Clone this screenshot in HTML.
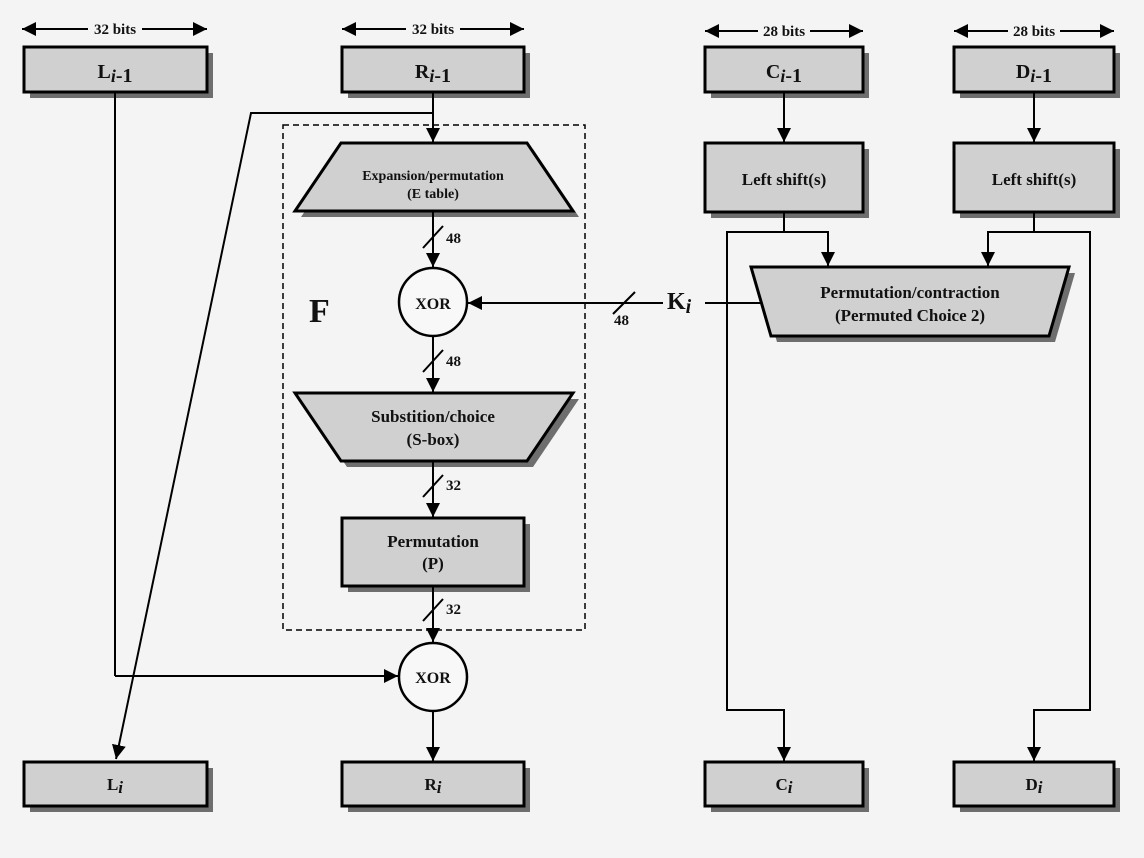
<!DOCTYPE html>
<html><head><meta charset="utf-8"><style>
html,body{margin:0;padding:0;background:#f4f4f4}
svg{display:block}
text{font-family:"Liberation Serif",serif;font-weight:bold;fill:#111}
</style></head><body>
<svg width="1144" height="858" viewBox="0 0 1144 858" xmlns="http://www.w3.org/2000/svg">
<defs>
<marker id="a" viewBox="0 0 10 10" refX="10" refY="5" markerWidth="14" markerHeight="14" markerUnits="userSpaceOnUse" orient="auto"><path d="M0,0 L10,5 L0,10 z" fill="#000"/></marker>
</defs>
<rect width="1144" height="858" fill="#f4f4f4"/>
<g stroke="#000" stroke-width="2" fill="none">
<line x1="30" y1="29" x2="207" y2="29" marker-end="url(#a)"/><line x1="200" y1="29" x2="22" y2="29" marker-end="url(#a)"/>
<line x1="348" y1="29" x2="524" y2="29" marker-end="url(#a)"/><line x1="520" y1="29" x2="342" y2="29" marker-end="url(#a)"/>
<line x1="710" y1="31" x2="863" y2="31" marker-end="url(#a)"/><line x1="860" y1="31" x2="705" y2="31" marker-end="url(#a)"/>
<line x1="960" y1="31" x2="1114" y2="31" marker-end="url(#a)"/><line x1="1110" y1="31" x2="954" y2="31" marker-end="url(#a)"/>
</g>
<g fill="#f4f4f4">
<rect x="88" y="19" width="54" height="20"/><rect x="406" y="19" width="54" height="20"/>
<rect x="758" y="21" width="52" height="20"/><rect x="1008" y="21" width="52" height="20"/>
</g>
<g font-size="15" text-anchor="middle">
<text x="115" y="34">32 bits</text><text x="433" y="34">32 bits</text>
<text x="784" y="36">28 bits</text><text x="1034" y="36">28 bits</text>
</g>
<g fill="#6e6e6e">
<rect x="30" y="53" width="183" height="45"/><rect x="348" y="53" width="182" height="45"/>
<rect x="711" y="53" width="158" height="45"/><rect x="960" y="53" width="160" height="45"/>
<rect x="711" y="149" width="158" height="69"/><rect x="960" y="149" width="160" height="69"/>
<rect x="348" y="524" width="182" height="68"/>
<rect x="30" y="768" width="183" height="44"/><rect x="348" y="768" width="182" height="44"/>
<rect x="711" y="768" width="158" height="44"/><rect x="960" y="768" width="160" height="44"/>
<polygon points="347,149 533,149 579,217 301,217"/>
<polygon points="301,399 579,399 533,467 347,467"/>
<polygon points="757,273 1075,273 1055,342 777,342"/>
</g>
<g fill="#d0d0d0" stroke="#000" stroke-width="3">
<rect x="24" y="47" width="183" height="45"/><rect x="342" y="47" width="182" height="45"/>
<rect x="705" y="47" width="158" height="45"/><rect x="954" y="47" width="160" height="45"/>
<rect x="705" y="143" width="158" height="69"/><rect x="954" y="143" width="160" height="69"/>
<rect x="342" y="518" width="182" height="68"/>
<rect x="24" y="762" width="183" height="44"/><rect x="342" y="762" width="182" height="44"/>
<rect x="705" y="762" width="158" height="44"/><rect x="954" y="762" width="160" height="44"/>
<polygon points="341,143 527,143 573,211 295,211"/>
<polygon points="295,393 573,393 527,461 341,461"/>
<polygon points="751,267 1069,267 1049,336 771,336"/>
</g>
<rect x="283" y="125" width="302" height="505" fill="none" stroke="#000" stroke-width="1.5" stroke-dasharray="6,4"/>
<g fill="#f8f8f8" stroke="#000" stroke-width="2.5">
<circle cx="433" cy="302" r="34"/><circle cx="433" cy="677" r="34"/>
</g>
<g stroke="#000" stroke-width="2" fill="none">
<line x1="115" y1="92" x2="115" y2="676"/><line x1="115" y1="676" x2="398" y2="676" marker-end="url(#a)"/>
<line x1="433" y1="92" x2="433" y2="142" marker-end="url(#a)"/>
<polyline points="433,113 251,113 116,759" marker-end="url(#a)"/>
<line x1="433" y1="211" x2="433" y2="267" marker-end="url(#a)"/>
<line x1="433" y1="336" x2="433" y2="392" marker-end="url(#a)"/>
<line x1="433" y1="461" x2="433" y2="517" marker-end="url(#a)"/>
<line x1="433" y1="586" x2="433" y2="642" marker-end="url(#a)"/>
<line x1="433" y1="711" x2="433" y2="761" marker-end="url(#a)"/>
<line x1="762" y1="303" x2="705" y2="303"/>
<line x1="663" y1="303" x2="468" y2="303" marker-end="url(#a)"/>
<line x1="784" y1="92" x2="784" y2="142" marker-end="url(#a)"/>
<line x1="1034" y1="92" x2="1034" y2="142" marker-end="url(#a)"/>
<polyline points="784,212 784,232 828,232 828,266" marker-end="url(#a)"/>
<polyline points="784,232 727,232 727,710 784,710 784,761" marker-end="url(#a)"/>
<polyline points="1034,212 1034,232 988,232 988,266" marker-end="url(#a)"/>
<polyline points="1034,232 1090,232 1090,710 1034,710 1034,761" marker-end="url(#a)"/>
<line x1="423" y1="248" x2="443" y2="226"/>
<line x1="423" y1="372" x2="443" y2="350"/>
<line x1="423" y1="497" x2="443" y2="475"/>
<line x1="423" y1="621" x2="443" y2="599"/>
<line x1="613" y1="314" x2="635" y2="292"/>
</g>
<g font-size="15">
<text x="446" y="243">48</text><text x="446" y="366">48</text>
<text x="446" y="490">32</text><text x="446" y="614">32</text>
<text x="614" y="325">48</text>
</g>
<g text-anchor="middle">
<text x="115" y="78" font-size="20">L<tspan font-style="italic" font-size="18" dy="4">i</tspan>-1</text>
<text x="433" y="78" font-size="20">R<tspan font-style="italic" font-size="18" dy="4">i</tspan>-1</text>
<text x="784" y="78" font-size="20">C<tspan font-style="italic" font-size="18" dy="4">i</tspan>-1</text>
<text x="1034" y="78" font-size="20">D<tspan font-style="italic" font-size="18" dy="4">i</tspan>-1</text>
<text x="115" y="790" font-size="17">L<tspan font-style="italic" dy="3">i</tspan></text>
<text x="433" y="790" font-size="17">R<tspan font-style="italic" dy="3">i</tspan></text>
<text x="784" y="790" font-size="17">C<tspan font-style="italic" dy="3">i</tspan></text>
<text x="1034" y="790" font-size="17">D<tspan font-style="italic" dy="3">i</tspan></text>
<text x="784" y="185" font-size="17">Left shift(s)</text>
<text x="1034" y="185" font-size="17">Left shift(s)</text>
<text x="433" y="180" font-size="14">Expansion/permutation</text>
<text x="433" y="198" font-size="14">(E table)</text>
<text x="433" y="309" font-size="16">XOR</text>
<text x="433" y="683" font-size="16">XOR</text>
<text x="433" y="422" font-size="17">Substition/choice</text>
<text x="433" y="445" font-size="17">(S-box)</text>
<text x="433" y="547" font-size="17">Permutation</text>
<text x="433" y="569" font-size="17">(P)</text>
<text x="910" y="298" font-size="17">Permutation/contraction</text>
<text x="910" y="321" font-size="17">(Permuted Choice 2)</text>
</g>
<text x="309" y="322" font-size="34">F</text>
<text x="667" y="309" font-size="24">K<tspan font-style="italic" font-size="20" dy="4">i</tspan></text>
</svg>
</body></html>
